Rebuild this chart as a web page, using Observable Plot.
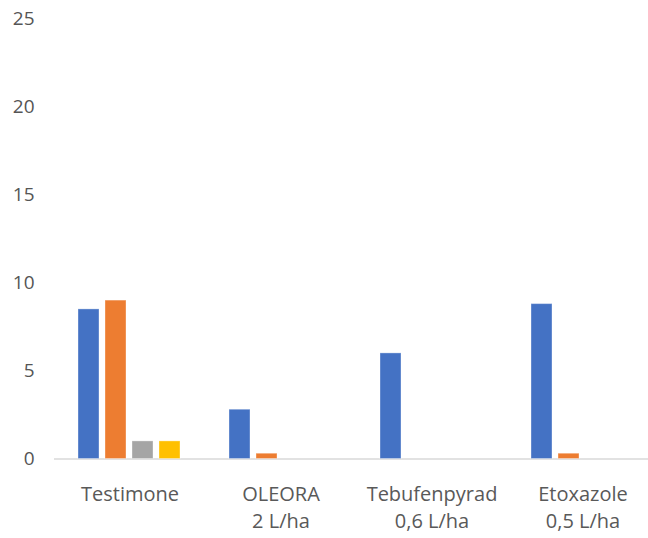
<!DOCTYPE html>
<html>
<head>
<meta charset="utf-8">
<script src="https://cdn.jsdelivr.net/npm/d3@7"></script>
<script src="https://cdn.jsdelivr.net/npm/@observablehq/plot@0.6"></script>
<style>
  html, body { margin: 0; padding: 0; background: #fff; overflow: hidden; }
  #chart svg { display: block; }
</style>
</head>
<body>
<div id="chart"></div>
<script>
const categories = ["Testimone", "OLEORA\n2 L/ha", "Tebufenpyrad\n0,6 L/ha", "Etoxazole\n0,5 L/ha"];
const series = ["S1", "S2", "S3", "S4"];
const colors = ["#4472C4", "#ED7D31", "#A5A5A5", "#FFC000"];
const s1 = [8.5, 2.8, 6.0, 8.8];
const s2 = [9.0, 0.3, 0, 0.3];
const s3 = [1.0, 0, 0, 0];
const s4 = [1.0, 0, 0, 0];
const yTicks = [0, 5, 10, 15, 20, 25];

const seriesValues = [s1, s2, s3, s4];
const data = [];
categories.forEach((c, i) => {
  series.forEach((s, j) => {
    data.push({category: c, series: s, value: seriesValues[j][i]});
  });
});

const chart = Plot.plot({
  width: 648,
  height: 538,
  marginLeft: 53,
  marginRight: -10,
  marginTop: 18.5,
  marginBottom: 79.5,
  style: {fontFamily: "'Open Sans', sans-serif", fontSize: "19px", color: "#595959", background: "#fff", overflow: "visible"},
  fx: {domain: categories, padding: 0, label: null},
  x: {domain: series, paddingInner: 0.218, paddingOuter: 0.858, axis: null},
  y: {domain: [0, 25], label: null},
  color: {domain: series, range: colors},
  marks: [
    Plot.axisY({ticks: yTicks, tickSize: 0, tickPadding: 20, fontSize: 19, fill: "#555555", label: null}),
    Plot.axisFx({anchor: "bottom", tickSize: 0, tickPadding: 23, fontSize: 20, fill: "#595959", lineHeight: 1.35, label: null, style: {letterSpacing: "1px"}}),
    Plot.ruleY([0], {stroke: "#d9d9d9", strokeWidth: 1.5}),
    Plot.barY(data, {fx: "category", x: "series", y: "value", fill: "series", stroke: "#ffffff", strokeOpacity: 0.35, strokeWidth: 1})
  ]
});
document.getElementById("chart").appendChild(chart);
</script>
</body>
</html>
